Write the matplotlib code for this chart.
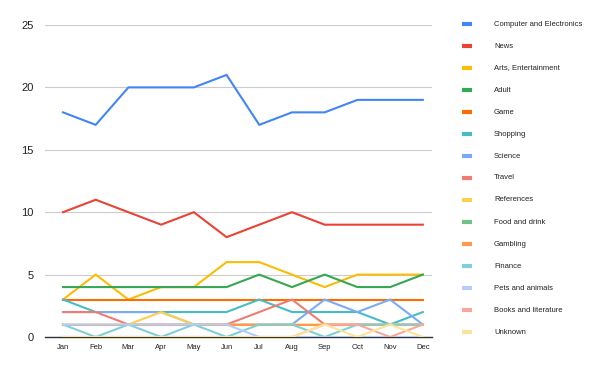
import numpy as np
import matplotlib
matplotlib.use('Agg')
import matplotlib.pyplot as plt
from matplotlib.lines import Line2D

plt.rcParams['font.family'] = ['Liberation Sans', 'DejaVu Sans']

months = ['Jan', 'Feb', 'Mar', 'Apr', 'May', 'Jun',
          'Jul', 'Aug', 'Sep', 'Oct', 'Nov', 'Dec']

categories = ['Computer and Electronics', 'News', 'Arts, Entertainment', 'Adult',
              'Game', 'Shopping', 'Science', 'Travel', 'References',
              'Food and drink', 'Gambling', 'Finance', 'Pets and animals',
              'Books and literature', 'Unknown']

computer   = [18, 17, 20, 20, 20, 21, 17, 18, 18, 19, 19, 19]
news       = [10, 11, 10, 9, 10, 8, 9, 10, 9, 9, 9, 9]
arts       = [3, 5, 3, 4, 4, 6, 6, 5, 4, 5, 5, 5]
adult      = [4, 4, 4, 4, 4, 4, 5, 4, 5, 4, 4, 5]
game       = [3, 3, 3, 3, 3, 3, 3, 3, 3, 3, 3, 3]
shopping   = [3, 2, 2, 2, 2, 2, 3, 2, 2, 2, 1, 2]
science    = [2, 2, 2, 2, 1, 1, 1, 1, 3, 2, 3, 1]
travel     = [2, 2, 1, 1, 1, 1, 2, 3, 1, 1, 1, 1]
references = [1, 1, 1, 2, 1, 1, 1, 1, 1, 1, 1, 1]
food       = [0, 0, 0, 0, 0, 0, 0, 0, 0, 0, 0, 0]
gambling   = [1, 1, 1, 1, 1, 1, 1, 1, 1, 1, 1, 1]
finance    = [1, 0, 1, 0, 1, 0, 1, 1, 0, 1, 1, 1]
pets       = [1, 1, 1, 1, 1, 1, 0, 0, 0, 0, 0, 0]
books      = [0, 0, 0, 0, 0, 0, 0, 0, 1, 1, 0, 1]
unknown    = [0, 0, 0, 0, 0, 0, 0, 0, 1, 0, 1, 0]

series = [computer, news, arts, adult, game, shopping, science, travel,
          references, food, gambling, finance, pets, books, unknown]

colors = ['#4285f4', '#ea4335', '#fbbc04', '#34a853', '#ff6d01', '#46bdc6',
          '#7baaf7', '#f07b72', '#fcd04f', '#71c287', '#ff994d', '#7ed1d7',
          '#b3cefb', '#f7a7a0', '#fde49b']

fig = plt.figure(figsize=(6, 3.71), dpi=100)
ax = fig.add_axes([45/600, 1 - 337/371, (432 - 45)/600, (337 - 25)/371])

x = np.arange(len(months))
for vals, c in zip(series, colors):
    ax.plot(x, vals, color=c, lw=1.5, solid_joinstyle='miter', zorder=3)

ax.set_xlim(-0.55, 11.28)
ax.set_ylim(0, 25)
ax.set_yticks([0, 5, 10, 15, 20, 25])
ax.set_xticks(x)
ax.set_xticklabels(months, fontsize=5.5)
ax.tick_params(axis='y', labelsize=8, length=0, pad=8, colors='#222222')
ax.tick_params(axis='x', length=0, pad=5, colors='#222222')
ax.grid(axis='y', color='#cccccc', lw=0.8)
ax.set_axisbelow(True)
for s in ['top', 'right', 'left']:
    ax.spines[s].set_visible(False)
ax.spines['bottom'].set_color('#333333')
ax.spines['bottom'].set_linewidth(1)

# legend on the right
for i, (name, c) in enumerate(zip(categories, colors)):
    yy = 1 - (24 + 22 * i) / 371
    fig.add_artist(Line2D([462/600, 472/600], [yy, yy], color=c, lw=3,
                          solid_capstyle='butt'))
    fig.text(494/600, yy, name, fontsize=5.5, va='center', ha='left',
             color='#222222')

fig.savefig('out.png', dpi=100)
